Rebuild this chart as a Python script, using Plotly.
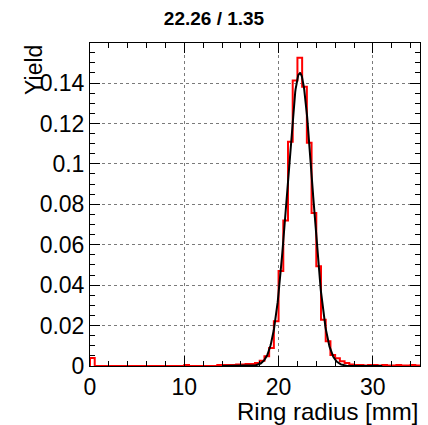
import numpy as np
import plotly.graph_objects as go

# ---- data ----
x_min, x_max, n_bins = 0.0, 35.0, 70          # 0.5 mm bins
yield_values = [
    0.0040, 0, 0, 0, 0, 0, 0, 0, 0, 0,                                   # 0-9   (0.0-5.0 mm)
    0, 0, 0, 0, 0, 0, 0, 0, 0, 0,                                        # 10-19 (5.0-10.0)
    0.0005, 0, 0, 0, 0, 0, 0, 0.0005, 0.0005, 0.0005,                    # 20-29 (10.0-15.0)
    0.0005, 0.0008, 0.0008, 0.0010, 0.0010, 0.0015, 0.0026, 0.0048, 0.0089, 0.0221,  # 30-39
    0.0470, 0.0720, 0.1109, 0.1412, 0.1525, 0.1381, 0.1104, 0.0757, 0.0493, 0.0229,  # 40-49
    0.0122, 0.0055, 0.0038, 0.0024, 0.0015, 0.0008, 0.0005, 0.0005, 0.0003, 0.0005,  # 50-59
    0.0005, 0.0003, 0.0005, 0.0003, 0.0003, 0.0005, 0.0003, 0.0003, 0.0005, 0.0003,  # 60-69
]
fit_mean, fit_sigma, fit_amp = 22.26, 1.35, 0.145
title_text = "22.26 / 1.35"
x_title, y_title = "Ring radius [mm]", "Yield"
x_ticks = [0, 10, 20, 30]
y_ticks = [0, 0.02, 0.04, 0.06, 0.08, 0.1, 0.12, 0.14]
y_tick_labels = ["0", "0.02", "0.04", "0.06", "0.08", "0.1", "0.12", "0.14"]

# ---- build traces ----
edges = list(np.linspace(x_min, x_max, n_bins + 1))
xs = [edges[0]] + edges[:-1] + [edges[-1], edges[-1]]
ys = [0] + yield_values + [yield_values[-1], 0]

fx = np.linspace(14, 31, 500)
fy = fit_amp * np.exp(-0.5 * ((fx - fit_mean) / fit_sigma) ** 2)

FONT = "Liberation Sans, Arial, Helvetica, sans-serif"

fig = go.Figure()
fig.add_trace(go.Scatter(x=xs, y=ys, mode="lines", line=dict(color="#ff0000", width=2, shape="hv"),
                         showlegend=False, hoverinfo="skip"))
fig.add_trace(go.Scatter(x=fx, y=fy, mode="lines", line=dict(color="black", width=2),
                         showlegend=False, hoverinfo="skip"))

axis_common = dict(
    showline=True, linecolor="black", linewidth=1, mirror="allticks",
    ticks="inside", ticklen=10, tickwidth=1, tickcolor="black",
    showgrid=True, gridcolor="#7a7a7a", griddash="dot", gridwidth=1,
    zeroline=False, tickfont=dict(family=FONT, size=23, color="black"),
)

fig.update_xaxes(range=[x_min, x_max], tickvals=x_ticks, ticktext=[str(t) for t in x_ticks],
                 minor=dict(ticks="inside", ticklen=5, dtick=2, tickcolor="black", showgrid=False),
                 **axis_common)
fig.update_yaxes(range=[0, 0.1598], tickvals=y_ticks, ticktext=y_tick_labels,
                 minor=dict(ticks="inside", ticklen=5, dtick=0.005, tickcolor="black", showgrid=False),
                 **axis_common)

fig.update_layout(
    width=428, height=425,
    margin=dict(l=90, r=8, t=43, b=59),
    paper_bgcolor="white", plot_bgcolor="white",
    title=dict(text=title_text, x=0.5, xanchor="center", y=1 - 18 / 425, yanchor="middle",
               font=dict(family=FONT, size=19, color="black", weight="bold")),
    annotations=[
        dict(text=x_title, xref="paper", yref="paper", x=1.0, y=-0.093, xanchor="right", yanchor="top",
             showarrow=False, font=dict(family=FONT, size=24, color="black")),
        dict(text=y_title, xref="paper", yref="paper", x=-0.17, y=1.0, xanchor="center", yanchor="top",
             textangle=-90, showarrow=False, font=dict(family=FONT, size=23, color="black")),
    ],
)

fig.write_html("out.html")
